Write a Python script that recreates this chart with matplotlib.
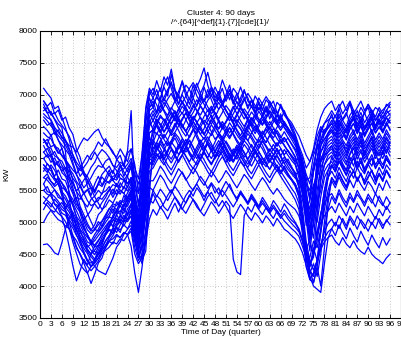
import matplotlib
matplotlib.use("Agg")
import matplotlib.pyplot as plt

# quarter-hour index of the day
quarters = list(range(1, 97))

# daily load profiles (kW)
# rows: q1-8 | q9-18 | q19-24 | q25-30 | q31-70 | q71-79 | q80-96
d01 = [7100, 7020, 6950, 6780, 6820, 6650, 6480, 6300,
       6050, 5880, 5720, 5800, 5560, 5420, 5600, 5720, 5580, 5700,
       5820, 5650, 5760, 5900, 5720, 5850,
       5950, 5600, 5450, 6100, 6750, 7050,
       6950, 7080, 6900, 7150, 7280, 7100, 6920, 7050, 7200, 6980,
       6850, 7050, 7180, 7020, 7150, 7350, 7120, 6950, 7050, 6880,
       7000, 7150, 6900, 6780, 6950, 7080, 6900, 6820, 6700, 6880,
       6780, 6650, 6820, 6900, 6720, 6600, 6750, 6600, 6450, 6350,
       6150, 5900, 5600, 5350, 5800, 6250, 6450, 6380, 6550,
       6700, 6520, 6780, 6600, 6680, 6880, 6620, 6750, 6560, 6720, 6800, 6600, 6480, 6700, 6760, 6820, 6880]
d02 = [6900, 6820, 6880, 6700, 6760, 6600, 6650, 6480,
       6380, 6150, 6020, 5780, 5720, 5600, 5480, 5620, 5750, 5820,
       5880, 5760, 5980, 6050, 5870, 6080,
       6150, 5850, 5680, 6050, 6600, 6950,
       6800, 6980, 7100, 6900, 7050, 7200, 6950, 6850, 7020, 7150,
       7080, 6950, 7120, 7250, 7420, 7150, 6980, 7120, 7000, 7230,
       7080, 6920, 7100, 7020, 6880, 7050, 6950, 6800, 6980, 6880,
       6760, 6920, 6850, 6700, 6880, 6820, 6680, 6600, 6520, 6380,
       6200, 6050, 5850, 5950, 6100, 6350, 6500, 6420, 6480,
       6550, 6680, 6500, 6620, 6720, 6540, 6660, 6480, 6600, 6720, 6560, 6680, 6500, 6620, 6540, 6650, 6700]
d03 = [6600, 6520, 6560, 6380, 6450, 6320, 6280, 6200,
       6180, 6100, 6220, 6320, 6280, 6350, 6420, 6460, 6330, 6240,
       6180, 6080, 6020, 6150, 6050, 5950,
       6150, 5900, 5450, 5700, 6350, 6800,
       6900, 6720, 6950, 7120, 6980, 7320, 7080, 6850, 7000, 6880,
       6780, 6950, 6820, 7020, 6900, 7080, 6920, 6780, 6960, 7100,
       6900, 7020, 6850, 6950, 7120, 6950, 6820, 6900, 6780, 6950,
       6850, 6720, 6900, 6780, 6650, 6850, 6720, 6600, 6480, 6320,
       6100, 5800, 5300, 5000, 5500, 5200, 5700, 6100, 6400,
       6500, 6380, 6560, 6450, 6330, 6520, 6620, 6430, 6560, 6380, 6500, 6620, 6450, 6560, 6400, 6520, 6600]
d04 = [6300, 6220, 6380, 6180, 6080, 6160, 5980, 5880,
       5650, 5480, 5250, 5120, 4980, 4880, 4960, 5120, 5180, 5320,
       5420, 5520, 5430, 5620, 5520, 5720,
       5900, 5350, 5050, 5900, 6800, 7100,
       7000, 7220, 7050, 7280, 7150, 7400, 7080, 6980, 7220, 7050,
       6920, 7150, 6980, 6880, 7120, 6950, 7080, 6900, 7020, 6820,
       6950, 7080, 6880, 7020, 6820, 6950, 6780, 6920, 6720, 6880,
       6680, 6820, 6620, 6780, 6580, 6700, 6520, 6480, 6380, 6280,
       5950, 5600, 5050, 4550, 5000, 5750, 6100, 6250, 6350,
       6420, 6280, 6460, 6330, 6480, 6560, 6380, 6520, 6320, 6460, 6580, 6400, 6520, 6620, 6430, 6560, 6650]
d05 = [6200, 6080, 6020, 5880, 5960, 5780, 5720, 5580,
       5450, 5280, 5220, 5020, 4880, 4820, 4880, 4960, 5020, 5120,
       5220, 5140, 5320, 5240, 5420, 5330,
       5500, 5100, 4750, 5300, 6050, 6400,
       6450, 6530, 6650, 6600, 6480, 6360, 6410, 6510, 6630, 6710,
       6590, 6470, 6390, 6490, 6600, 6540, 6420, 6300, 6370, 6480,
       6570, 6660, 6540, 6430, 6320, 6390, 6500, 6620, 6550, 6440,
       6330, 6250, 6360, 6470, 6390, 6270, 6330, 6230, 6130, 6030,
       5850, 5450, 4950, 5100, 5500, 5800, 5950, 6050, 6100,
       6200, 6020, 6180, 6260, 6080, 6220, 6040, 6160, 6280, 6080, 6220, 6320, 6120, 6040, 6220, 6080, 6260]
d06 = [5800, 5920, 5840, 5720, 5820, 5680, 5650, 5480,
       5280, 5080, 4880, 4720, 4580, 4500, 4420, 4560, 4680, 4820,
       4920, 5020, 5120, 5020, 5220, 5120,
       5300, 4900, 4550, 4800, 5500, 6200,
       6300, 6190, 6070, 5990, 6100, 6250, 6370, 6270, 6150, 6240,
       6350, 6460, 6330, 6210, 6100, 6010, 6130, 6260, 6380, 6290,
       6180, 6070, 5960, 6050, 6170, 6280, 6210, 6090, 6190, 6300,
       6210, 6080, 5980, 6060, 6160, 6050, 5920, 5990, 5870, 5770,
       5550, 5100, 4600, 4350, 4500, 4700, 5100, 5500, 5800,
       6020, 5880, 6080, 5920, 5820, 6020, 5880, 6080, 5920, 6120, 5980, 5880, 6080, 5920, 6120, 5980, 5920]
d07 = [5600, 5480, 5460, 5280, 5220, 5080, 4880, 4620,
       4320, 4080, 4240, 4420, 4330, 4510, 4620, 4700, 4820, 4880,
       5020, 4930, 5120, 5180, 5140, 5300,
       5420, 5150, 4850, 4950, 5600, 6200,
       6250, 6400, 6320, 6200, 6290, 6420, 6550, 6440, 6320, 6230,
       6340, 6460, 6380, 6250, 6150, 6270, 6400, 6520, 6410, 6300,
       6380, 6490, 6370, 6260, 6170, 6280, 6390, 6310, 6200, 6320,
       6430, 6330, 6220, 6130, 6250, 6160, 6060, 6130, 6020, 5930,
       5750, 5500, 5150, 4700, 4500, 5100, 5650, 5900, 6050,
       6100, 6000, 6160, 6050, 5940, 6080, 6200, 6060, 6140, 6000, 6090, 6210, 6050, 6140, 6060, 6200, 6100]
d08 = [4650, 4660, 4600, 4520, 4490, 4680, 4900, 5060,
       5120, 4960, 4790, 4700, 4610, 4660, 4760, 4840, 4910, 5000,
       5080, 5060, 5190, 5160, 5290, 5250,
       5380, 4950, 4600, 5250, 5850, 6100,
       6000, 6120, 6230, 6140, 6020, 5930, 6040, 6160, 6270, 6180,
       6060, 5970, 6080, 6200, 6110, 6000, 5920, 6030, 6150, 6240,
       6130, 6010, 5940, 6050, 6170, 6080, 5970, 5880, 5990, 6100,
       6010, 5910, 5830, 5950, 6040, 5930, 5850, 5760, 5680, 5600,
       5470, 5000, 4500, 4450, 4700, 4600, 4900, 5400, 5700,
       5900, 5790, 5960, 5860, 5740, 5880, 5800, 5960, 5840, 5760, 5910, 5800, 5700, 5860, 5740, 5900, 5820]
d09 = [6100, 6020, 6060, 5940, 5890, 5800, 5860, 5700,
       5620, 5480, 5400, 5310, 5240, 5360, 5410, 5500, 5440, 5610,
       5640, 5720, 5740, 5860, 5920, 6120,
       6750, 5300, 4700, 5200, 6050, 6550,
       6700, 6560, 6430, 6550, 6680, 6800, 6720, 6590, 6480, 6600,
       6720, 6840, 6750, 6630, 6540, 6660, 6790, 6690, 6570, 6460,
       6580, 6700, 6820, 6700, 6590, 6500, 6620, 6540, 6430, 6550,
       6660, 6570, 6460, 6380, 6490, 6590, 6480, 6390, 6300, 6200,
       6100, 5950, 5750, 5600, 5900, 6150, 6280, 6400, 6480,
       6550, 6440, 6600, 6490, 6400, 6560, 6650, 6500, 6610, 6450, 6540, 6660, 6500, 6590, 6510, 6640, 6560]
d10 = [5900, 5820, 5740, 5660, 5600, 5480, 5410, 5290,
       5120, 4900, 4720, 4510, 4390, 4300, 4360, 4440, 4520, 4600,
       4700, 4660, 4790, 4760, 4840, 4810,
       4620, 4200, 3900, 4300, 4850, 5600,
       6000, 6180, 6090, 5980, 6100, 6230, 6320, 6200, 6090, 6180,
       6290, 6180, 6060, 5990, 6110, 6240, 6150, 6030, 6140, 6260,
       6150, 6040, 5960, 6080, 6190, 6100, 5990, 6090, 6200, 6110,
       6000, 5920, 6050, 6150, 6050, 5950, 6020, 5930, 5850, 5780,
       5600, 5200, 4700, 4400, 4250, 4400, 4850, 5300, 5700,
       5880, 5800, 5960, 5860, 5740, 5890, 6010, 5850, 5950, 5800, 5910, 6000, 5860, 5950, 5840, 6000, 5900]
d11 = [6000, 5910, 5860, 5690, 5620, 5410, 5190, 5010,
       4790, 4620, 4490, 4360, 4210, 4040, 4190, 4360, 4440, 4610,
       4710, 4790, 4910, 4840, 5010, 5040,
       5180, 4900, 4500, 4600, 5300, 6100,
       6500, 6620, 6540, 6420, 6530, 6660, 6750, 6640, 6520, 6430,
       6540, 6660, 6580, 6460, 6380, 6500, 6620, 6720, 6610, 6490,
       6570, 6680, 6560, 6450, 6360, 6470, 6590, 6500, 6390, 6500,
       6610, 6520, 6410, 6320, 6440, 6350, 6260, 6320, 6220, 6120,
       5950, 5600, 5150, 4850, 5150, 5700, 6000, 6100, 6200,
       6250, 6140, 6300, 6190, 6100, 6260, 6340, 6200, 6310, 6150, 6240, 6350, 6190, 6290, 6210, 6340, 6240]
d12 = [5500, 5440, 5410, 5290, 5260, 5140, 5110, 4990,
       4910, 4790, 4710, 4590, 4510, 4390, 4310, 4240, 4210, 4180,
       4310, 4440, 4610, 4690, 4810, 4890,
       5020, 4700, 4450, 4650, 5250, 5800,
       5850, 5960, 6050, 5940, 5830, 5740, 5850, 5970, 6060, 5950,
       5840, 5760, 5870, 5990, 5900, 5790, 5710, 5820, 5940, 6030,
       5920, 5810, 5730, 5840, 5950, 5870, 5760, 5680, 5790, 5900,
       5800, 5700, 5620, 5730, 5820, 5720, 5630, 5540, 5450, 5350,
       5200, 4800, 4300, 4100, 4200, 4400, 4600, 4900, 5200,
       5400, 5290, 5460, 5340, 5240, 5400, 5310, 5440, 5360, 5250, 5390, 5300, 5450, 5340, 5260, 5400, 5300]
d13 = [5700, 5660, 5590, 5510, 5440, 5360, 5290, 5210,
       5090, 5010, 4890, 4810, 4690, 4660, 4710, 4790, 4860, 4940,
       5010, 4940, 5060, 4990, 5110, 5040,
       5160, 4850, 4650, 4800, 5100, 5350,
       5300, 5420, 5360, 5240, 5180, 5290, 5400, 5320, 5210, 5140,
       5250, 5360, 5280, 5170, 5100, 5210, 5320, 5240, 5140, 5230,
       5330, 5250, 4420, 4220, 4180, 5100, 5240, 5160, 5290, 5200,
       5120, 5230, 5140, 5060, 5180, 5100, 5020, 4960, 4900, 4850,
       4780, 4620, 4450, 4250, 4050, 4300, 4650, 4850, 4980,
       5050, 4940, 5100, 5010, 4890, 5060, 4950, 5100, 5000, 4900, 5050, 4960, 5090, 5010, 4900, 5040, 4960]
d14 = [5300, 5260, 5190, 5110, 5040, 5010, 4940, 4900,
       4790, 4710, 4590, 4510, 4390, 4360, 4410, 4490, 4560, 4640,
       4710, 4740, 4810, 4760, 4840, 4810,
       4910, 4600, 4400, 4500, 4900, 5250,
       5450, 5330, 5220, 5300, 5420, 5510, 5390, 5290, 5200, 5310,
       5430, 5350, 5240, 5170, 5280, 5400, 5470, 5360, 5250, 5340,
       5250, 5140, 5060, 5170, 5280, 5200, 5100, 5030, 5150, 5080,
       4990, 5100, 5030, 4940, 5060, 4980, 4890, 4850, 4790, 4740,
       4650, 4520, 4320, 4120, 4200, 4380, 4580, 4690, 4760,
       4800, 4700, 4640, 4760, 4660, 4600, 4710, 4600, 4540, 4500, 4610, 4500, 4440, 4400, 4350, 4440, 4500]
d15 = [5400, 5340, 5290, 5210, 5140, 5090, 5010, 4890,
       4760, 4590, 4510, 4390, 4310, 4240, 4310, 4390, 4510, 4560,
       4610, 4690, 4660, 4740, 4710, 4800,
       4860, 4500, 4350, 4450, 4700, 5050,
       5200, 5110, 5240, 5160, 5050, 5180, 5300, 5160, 5300, 5420,
       5500, 5410, 5540, 5460, 5340, 5480, 5600, 5460, 5540, 5400,
       5490, 5600, 5460, 5340, 5490, 5400, 5310, 5440, 5350, 5250,
       5390, 5300, 5200, 5340, 5260, 5160, 5290, 5200, 5090, 5000,
       4900, 4720, 4450, 4150, 4000, 3950, 3900, 4350, 4750,
       4900, 5000, 4900, 5060, 4940, 5100, 5010, 4890, 5040, 4960, 4860, 5000, 4900, 5060, 4950, 5010, 5100]
d16 = [6400, 6340, 6310, 6190, 6160, 6040, 5960, 5840,
       5760, 5640, 5560, 5440, 5510, 5390, 5310, 5340, 5460, 5490,
       5560, 5440, 5610, 5540, 5660, 5600,
       5700, 5350, 4950, 5300, 6200, 6700,
       6600, 6720, 6830, 6740, 6620, 6540, 6660, 6780, 6900, 6790,
       6680, 6590, 6700, 6820, 6730, 6620, 6540, 6650, 6770, 6860,
       6750, 6640, 6560, 6670, 6790, 6700, 6590, 6510, 6620, 6740,
       6650, 6540, 6460, 6570, 6680, 6580, 6490, 6420, 6340, 6250,
       6050, 5700, 5200, 4750, 5150, 5850, 6200, 6300, 6400,
       6450, 6340, 6500, 6400, 6290, 6460, 6550, 6390, 6510, 6340, 6460, 6550, 6400, 6490, 6410, 6560, 6440]
d17 = [5200, 5310, 5240, 5360, 5290, 5200, 5160, 5040,
       4950, 4860, 4740, 4660, 4540, 4460, 4390, 4510, 4600, 4710,
       4790, 4910, 4990, 5110, 5040, 5210,
       5280, 4800, 4550, 4900, 5550, 5950,
       5900, 6020, 6110, 6010, 5900, 5820, 5930, 6050, 6140, 6040,
       5920, 5840, 5950, 6070, 5980, 5870, 5790, 5900, 6020, 6110,
       6000, 5890, 5810, 5920, 6030, 5950, 5840, 5760, 5870, 5980,
       5880, 5780, 5700, 5810, 5900, 5800, 5710, 5620, 5530, 5450,
       5300, 4900, 4400, 4200, 4350, 4150, 4500, 5000, 5400,
       5650, 5540, 5710, 5590, 5500, 5660, 5540, 5700, 5590, 5500, 5640, 5560, 5440, 5610, 5500, 5660, 5540]
d18 = [6800, 6710, 6740, 6610, 6490, 6400, 6290, 6160,
       5940, 5760, 5590, 5460, 5340, 5260, 5290, 5210, 5310, 5390,
       5510, 5590, 5560, 5690, 5660, 5740,
       5860, 5550, 5300, 5650, 6400, 6850,
       6950, 6840, 6720, 6810, 6930, 7020, 6900, 6790, 6700, 6820,
       6940, 6860, 6750, 6680, 6790, 6910, 6990, 6880, 6770, 6860,
       6760, 6660, 6590, 6700, 6810, 6730, 6630, 6560, 6680, 6600,
       6520, 6630, 6740, 6650, 6560, 6660, 6560, 6470, 6400, 6320,
       6150, 5900, 5500, 5100, 5300, 5950, 6300, 6450, 6500,
       6600, 6490, 6660, 6540, 6440, 6610, 6700, 6540, 6660, 6490, 6600, 6710, 6590, 6700, 6560, 6710, 6750]
d19 = [5700, 5760, 5640, 5560, 5610, 5440, 5360, 5240,
       5160, 5040, 4960, 4840, 4760, 4700, 4810, 4890, 5010, 5090,
       5210, 5290, 5260, 5340, 5310, 5400,
       5500, 5200, 4800, 5100, 5850, 6350,
       6150, 6250, 6380, 6300, 6200, 6280, 6400, 6330, 6210, 6100,
       6180, 6300, 6420, 6500, 6390, 6270, 6190, 6100, 6200, 6320,
       6250, 6140, 6050, 6130, 6250, 6360, 6280, 6180, 6080, 6160,
       6270, 6180, 6060, 5980, 6070, 6150, 6040, 5940, 5850, 5740,
       5800, 5600, 5400, 5200, 5550, 5800, 5700, 5900, 5990,
       6050, 5940, 6110, 5990, 5900, 6060, 6160, 5990, 6110, 5940, 6050, 6160, 6000, 6100, 6000, 6150, 6040]
d20 = [6500, 6440, 6360, 6410, 6290, 6210, 6140, 6060,
       5900, 5740, 5660, 5540, 5610, 5700, 5810, 5890, 5860, 5960,
       6000, 5890, 5860, 5940, 5910, 5790,
       5950, 5700, 5250, 5500, 6200, 6600,
       6450, 6560, 6680, 6600, 6480, 6380, 6490, 6610, 6530, 6420,
       6330, 6440, 6560, 6650, 6540, 6430, 6360, 6470, 6590, 6500,
       6390, 6310, 6420, 6540, 6460, 6360, 6280, 6400, 6510, 6420,
       6320, 6250, 6370, 6280, 6190, 6290, 6200, 6110, 6030, 5950,
       6000, 5800, 5600, 5500, 5800, 6000, 5950, 6050, 6150,
       6200, 6090, 6260, 6140, 6040, 6210, 6300, 6140, 6260, 6090, 6200, 6310, 6140, 6250, 6150, 6310, 6200]
d21 = [6000, 6060, 5940, 6010, 5890, 5860, 5740, 5660,
       5490, 5360, 5190, 5060, 4940, 4860, 4890, 5010, 4940, 5060,
       5090, 5210, 5140, 5260, 5190, 5310,
       5390, 5000, 4700, 4950, 5500, 5900,
       5950, 6060, 6000, 6130, 6250, 6150, 6030, 5940, 6050, 6170,
       6090, 5980, 5900, 6010, 6140, 6230, 6120, 6000, 6080, 6190,
       6060, 5950, 6040, 6150, 6050, 5930, 5860, 5970, 6090, 6010,
       5900, 5990, 6080, 5980, 5870, 5790, 5880, 5760, 5660, 5560,
       5400, 5000, 4600, 4700, 5000, 4800, 5100, 5500, 5700,
       5800, 5690, 5860, 5740, 5640, 5810, 5690, 5860, 5740, 5650, 5800, 5700, 5590, 5760, 5640, 5810, 5700]
d22 = [6900, 6810, 6700, 6620, 6540, 6490, 6100, 5400,
       5000, 4810, 4660, 4540, 4410, 4310, 4360, 4440, 4560, 4640,
       4760, 4840, 4960, 5040, 5010, 5110,
       5200, 4900, 4600, 4750, 5500, 6200,
       6400, 6520, 6430, 6320, 6420, 6550, 6650, 6540, 6430, 6350,
       6460, 6580, 6490, 6380, 6300, 6410, 6530, 6440, 6340, 6260,
       6370, 6480, 6390, 6290, 6210, 6320, 6440, 6350, 6250, 6170,
       6290, 6200, 6110, 6220, 6130, 6040, 6140, 6050, 5970, 5900,
       5700, 5450, 5100, 4750, 4950, 5500, 5850, 6000, 6100,
       6150, 6040, 6210, 6090, 6000, 6160, 6250, 6090, 6210, 6040, 6150, 6260, 6090, 6200, 6100, 6260, 6150]
d23 = [5000, 5110, 5190, 5160, 5260, 5310, 5210, 5340,
       5310, 5390, 5360, 5460, 5510, 5540, 5460, 5600, 5560, 5660,
       5610, 5690, 5660, 5760, 5690, 5610,
       5700, 5400, 5000, 4850, 5300, 6000,
       6100, 6250, 6160, 6040, 6130, 6260, 6180, 6060, 6170, 6300,
       6220, 6100, 6000, 6120, 6250, 6340, 6230, 6110, 6030, 6150,
       6270, 6180, 6070, 5990, 6100, 6220, 6140, 6020, 6120, 6230,
       6150, 6030, 5940, 6040, 6130, 6020, 5920, 5830, 5760, 5690,
       5650, 5450, 5150, 5350, 5600, 5300, 5500, 5800, 5900,
       5950, 5840, 6010, 5890, 5800, 5960, 6060, 5890, 6010, 5840, 5950, 6060, 5900, 6000, 5900, 6050, 5940]
d24 = [6300, 6190, 6160, 6040, 6010, 5890, 5810, 5690,
       5610, 5490, 5560, 5660, 5740, 5860, 5940, 6060, 6140, 6090,
       6010, 5890, 5810, 5690, 5660, 5540,
       5700, 5350, 5150, 5450, 6300, 6800,
       6850, 6960, 6880, 6760, 6670, 6780, 6900, 6990, 6880, 6770,
       6690, 6800, 6920, 6830, 6730, 6650, 6760, 6870, 6960, 6850,
       6750, 6660, 6780, 6890, 6800, 6700, 6620, 6730, 6650, 6560,
       6670, 6780, 6700, 6610, 6530, 6630, 6540, 6460, 6380, 6260,
       6100, 5850, 5450, 5050, 5350, 6000, 6400, 6550, 6650,
       6750, 6650, 6800, 6900, 6750, 6850, 6700, 6800, 6900, 6750, 6850, 6700, 6800, 6750, 6650, 6750, 6850]
d25 = [5900, 5840, 5810, 5690, 5660, 5540, 5510, 5390,
       5260, 5090, 5010, 4890, 4810, 4690, 4610, 4640, 4760, 4840,
       4960, 5040, 5010, 5090, 5060, 5140,
       5260, 4900, 4650, 4700, 5200, 5650,
       5650, 5750, 5880, 5800, 5690, 5610, 5720, 5840, 5770, 5660,
       5740, 5860, 5780, 5660, 5580, 5690, 5800, 5720, 5620, 5700,
       5810, 5730, 5630, 5540, 5640, 5750, 5680, 5580, 5500, 5610,
       5700, 5620, 5520, 5440, 5530, 5450, 5360, 5300, 5250, 5200,
       5100, 4900, 4600, 4350, 4450, 4850, 5150, 5300, 5400,
       5450, 5340, 5510, 5390, 5300, 5460, 5340, 5500, 5390, 5300, 5440, 5350, 5240, 5410, 5290, 5200, 5310]
d26 = [5500, 5560, 5440, 5510, 5390, 5360, 5240, 5160,
       5040, 4960, 4840, 4760, 4640, 4560, 4490, 4610, 4690, 4810,
       4890, 4860, 4940, 5010, 4940, 5060,
       5090, 4750, 4500, 4650, 5100, 5550,
       5500, 5620, 5740, 5660, 5540, 5460, 5580, 5700, 5790, 5680,
       5570, 5500, 5610, 5720, 5640, 5530, 5620, 5540, 5440, 5530,
       5640, 5550, 5450, 5380, 5480, 5390, 5300, 5410, 5320, 5240,
       5340, 5250, 5170, 5270, 5180, 5100, 5190, 5100, 5030, 4980,
       4880, 4700, 4480, 4250, 4150, 4400, 4650, 4750, 4850,
       4900, 4790, 4960, 4840, 4740, 4910, 4790, 4690, 4860, 4740, 4640, 4800, 4690, 4600, 4760, 4640, 4740]
d27 = [6650, 6590, 6510, 6440, 6360, 6290, 6210, 6090,
       6010, 5890, 5810, 5860, 5940, 6060, 6140, 6260, 6190, 6310,
       6190, 6110, 5990, 5910, 5790, 5710,
       5600, 5200, 4800, 4400, 4550, 5400,
       6300, 6610, 6520, 6410, 6500, 6630, 6720, 6610, 6500, 6420,
       6530, 6650, 6560, 6450, 6370, 6480, 6600, 6510, 6400, 6330,
       6440, 6560, 6470, 6370, 6290, 6400, 6510, 6420, 6320, 6250,
       6360, 6460, 6370, 6280, 6200, 6300, 6210, 6120, 6050, 5980,
       5850, 5600, 5250, 4900, 5200, 5800, 6100, 6200, 6300,
       6350, 6240, 6410, 6290, 6200, 6360, 6450, 6290, 6410, 6240, 6350, 6460, 6290, 6400, 6300, 6450, 6340]
d28 = [6100, 6160, 6040, 6110, 5990, 5960, 5840, 5810,
       5690, 5610, 5440, 5310, 5140, 5010, 4890, 4860, 4940, 5060,
       5140, 5260, 5190, 5310, 5240, 5360,
       5440, 5150, 4750, 5000, 5700, 6250,
       6050, 6170, 6280, 6180, 6060, 5990, 6100, 6220, 6140, 6030,
       5950, 6060, 6180, 6290, 6190, 6080, 6000, 6110, 6230, 6150,
       6040, 5960, 6070, 6180, 6090, 5990, 5910, 6020, 6130, 6040,
       5940, 5870, 5980, 5890, 5800, 5890, 5800, 5720, 5660, 5600,
       5450, 5000, 4500, 4100, 4050, 4300, 4000, 4600, 5300,
       5700, 5590, 5760, 5640, 5540, 5710, 5800, 5640, 5760, 5590, 5700, 5810, 5640, 5750, 5650, 5810, 5700]
d29 = [6700, 6640, 6610, 6490, 6410, 6340, 6260, 6140,
       6060, 5940, 5860, 5740, 5660, 5540, 5510, 5590, 5710, 5640,
       5760, 5810, 5690, 5810, 5840, 5910,
       6000, 5750, 5600, 5800, 6550, 7000,
       7100, 6980, 6870, 6960, 7080, 7170, 7060, 6950, 6870, 6980,
       7100, 7190, 7080, 6970, 6890, 7000, 7120, 7030, 6920, 6850,
       6960, 7070, 6980, 6880, 6800, 6910, 7020, 6930, 6830, 6760,
       6870, 6970, 6880, 6790, 6710, 6810, 6720, 6630, 6560, 6450,
       6350, 6200, 6050, 5950, 6150, 6450, 6650, 6780, 6850,
       6900, 6750, 6850, 6700, 6800, 6900, 6750, 6650, 6800, 6700, 6850, 6750, 6650, 6800, 6700, 6850, 6800]
d30 = [5600, 5710, 5640, 5590, 5710, 5610, 5490, 5440,
       5360, 5240, 5160, 5040, 5110, 5190, 5310, 5390, 5360, 5440,
       5510, 5390, 5510, 5440, 5560, 5490,
       5600, 5300, 5000, 5150, 5800, 6400,
       6450, 6380, 6500, 6620, 6540, 6420, 6520, 6640, 6720, 6610,
       6500, 6580, 6480, 6380, 6470, 6590, 6680, 6570, 6460, 6540,
       6440, 6340, 6430, 6550, 6470, 6370, 6460, 6570, 6480, 6380,
       6300, 6400, 6500, 6410, 6310, 6230, 6320, 6220, 6120, 6020,
       5850, 5600, 5300, 5000, 4750, 5300, 5950, 6150, 6250,
       6300, 6190, 6360, 6240, 6150, 6310, 6400, 6240, 6360, 6190, 6300, 6410, 6240, 6350, 6250, 6400, 6300]
d31 = [6850, 6720, 6590, 6460, 6290, 6160, 5940, 5760,
       5540, 5360, 5140, 4960, 4790, 4660, 4540, 4510, 4590, 4710,
       4790, 4910, 4840, 4960, 5040, 5010,
       5100, 4800, 4450, 4600, 5300, 6000,
       6250, 6140, 6260, 6380, 6290, 6170, 6080, 6190, 6310, 6220,
       6100, 6020, 6130, 6250, 6330, 6220, 6110, 6180, 6280, 6180,
       6070, 5990, 6100, 6210, 6130, 6020, 6110, 6220, 6130, 6020,
       5940, 6040, 6150, 6060, 5960, 5880, 5980, 5880, 5790, 5720,
       5550, 5350, 5050, 4800, 5300, 5000, 5400, 5700, 5820,
       5900, 5790, 5960, 5840, 5740, 5900, 6010, 5840, 5960, 5790, 5900, 6010, 5840, 5950, 5850, 6010, 5900]
d32 = [6300, 6210, 6090, 5910, 5690, 5510, 5190, 4910,
       4690, 4510, 4340, 4260, 4200, 4310, 4390, 4510, 4640, 4810,
       4940, 5110, 5190, 5310, 5340, 5460,
       5550, 5100, 4900, 5600, 6350, 6750,
       6800, 6700, 6820, 6940, 6850, 6730, 6650, 6760, 6880, 6800,
       6690, 6610, 6720, 6840, 6920, 6810, 6700, 6780, 6880, 6780,
       6670, 6590, 6700, 6810, 6730, 6620, 6710, 6820, 6730, 6620,
       6540, 6640, 6750, 6660, 6560, 6480, 6580, 6480, 6390, 6280,
       6100, 5800, 5400, 5050, 5200, 5800, 6200, 6380, 6480,
       6550, 6440, 6600, 6490, 6400, 6560, 6650, 6500, 6610, 6450, 6540, 6660, 6500, 6590, 6510, 6640, 6560]
d33 = [5850, 5780, 5900, 5820, 5700, 5620, 5540, 5400,
       5300, 5180, 5050, 4920, 4800, 4700, 4640, 4720, 4800, 4900,
       5000, 5080, 5180, 5120, 5260, 5380,
       5450, 5050, 4700, 5000, 5650, 6000,
       5950, 6080, 5980, 5900, 6020, 6140, 6060, 5960, 6050, 6180,
       6280, 6170, 6060, 5980, 6090, 5990, 5900, 6010, 6120, 6050,
       5940, 6030, 6150, 6070, 5970, 5880, 5990, 6090, 6000, 5910,
       6010, 5920, 5830, 5930, 5850, 5760, 5850, 5750, 5660, 5580,
       5400, 5000, 4500, 4300, 4600, 4400, 4850, 5200, 5500,
       5700, 5620, 5780, 5660, 5560, 5720, 5810, 5660, 5770, 5610, 5720, 5820, 5660, 5770, 5670, 5820, 5720]
d34 = [6750, 6800, 6680, 6720, 6600, 6520, 6440, 6350,
       6200, 6050, 5900, 5780, 5650, 5520, 5400, 5300, 5200, 5250,
       5350, 5300, 5420, 5500, 5450, 5560,
       5650, 5450, 5150, 5500, 6250, 6650,
       6750, 6640, 6760, 6880, 6790, 6680, 6590, 6700, 6820, 6740,
       6630, 6720, 6840, 6950, 6850, 6740, 6820, 6720, 6620, 6720,
       6830, 6750, 6640, 6560, 6670, 6780, 6700, 6600, 6690, 6800,
       6700, 6600, 6520, 6620, 6530, 6440, 6540, 6450, 6360, 6280,
       6150, 6000, 5700, 5400, 5800, 6200, 6450, 6550, 6600,
       6650, 6550, 6700, 6600, 6500, 6680, 6760, 6600, 6720, 6560, 6660, 6760, 6600, 6700, 6620, 6760, 6680]
d35 = [5300, 5380, 5450, 5400, 5330, 5250, 5180, 5100,
       5000, 4880, 4760, 4650, 4560, 4500, 4560, 4640, 4720, 4800,
       4880, 4820, 4920, 4880, 4960, 4900,
       4950, 4700, 4500, 4350, 4700, 5300,
       5500, 5400, 5520, 5440, 5340, 5450, 5560, 5480, 5380, 5300,
       5410, 5520, 5600, 5500, 5400, 5480, 5380, 5300, 5400, 5500,
       5420, 5330, 5240, 5340, 5450, 5370, 5280, 5380, 5300, 5210,
       5300, 5220, 5140, 5230, 5150, 5060, 5140, 5050, 4980, 4920,
       4850, 4700, 4500, 4300, 4500, 4800, 5000, 5100, 5180,
       5250, 5150, 5300, 5200, 5100, 5250, 5150, 5300, 5200, 5100, 5250, 5150, 5050, 5200, 5100, 5250, 5150]
d36 = [6250, 6300, 6180, 6220, 6100, 6050, 5980, 5900,
       5820, 5760, 5850, 5950, 6050, 5980, 6100, 6000, 5900, 5820,
       5740, 5660, 5580, 5500, 5450, 5380,
       5500, 5200, 4950, 5350, 6100, 6500,
       6600, 6500, 6400, 6500, 6620, 6720, 6620, 6520, 6600, 6720,
       6630, 6520, 6440, 6540, 6660, 6760, 6650, 6550, 6470, 6580,
       6490, 6400, 6500, 6610, 6530, 6430, 6520, 6640, 6550, 6450,
       6380, 6480, 6580, 6480, 6400, 6320, 6420, 6320, 6230, 6150,
       6050, 5900, 5650, 5700, 6050, 6200, 6250, 6300, 6380,
       6450, 6350, 6500, 6400, 6300, 6460, 6550, 6400, 6520, 6360, 6460, 6560, 6400, 6500, 6420, 6560, 6460]

days = [d01, d02, d03, d04, d05, d06, d07, d08, d09, d10, d11, d12,
        d13, d14, d15, d16, d17, d18, d19, d20, d21, d22, d23, d24,
        d25, d26, d27, d28, d29, d30, d31, d32, d33, d34, d35, d36]

title = "Cluster 4: 90 days\n/^.{64}[^def]{1}.{7}[cde]{1}/"
xticks = list(range(0, 100, 3))
yticks = list(range(3500, 8001, 500))

plt.rcParams["font.family"] = ["Liberation Sans", "DejaVu Sans"]
fig = plt.figure(figsize=(4.02, 3.40), dpi=100)
ax = fig.add_axes([0.0995, 0.065, 0.898, 0.844])

for day in days:
    ax.plot(quarters, day, color="#0000ff", linewidth=0.9)

ax.set_xlim(0, 99)
ax.set_ylim(3500, 8000)
ax.set_xticks(xticks)
ax.set_yticks(yticks)
ax.tick_params(direction="in", length=3, width=0.6, labelsize=6, pad=2,
               top=True, right=True)
ax.grid(True, linestyle=(0, (1, 3)), color="#999999", linewidth=0.5)
for s in ax.spines.values():
    s.set_linewidth(0.8)

ax.set_title(title, fontsize=6, linespacing=1.3, pad=5)
ax.set_xlabel("Time of Day (quarter)", fontsize=6, labelpad=1)
ax.set_ylabel("KW", fontsize=6, labelpad=6)

fig.savefig("out.png", dpi=100)
